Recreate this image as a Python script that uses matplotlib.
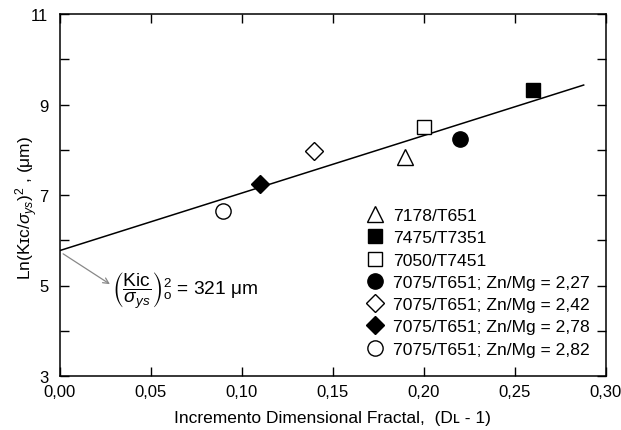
import matplotlib
matplotlib.use("Agg")
import matplotlib.pyplot as plt

plt.rcParams['font.family'] = ['Liberation Sans', 'DejaVu Sans']
plt.rcParams['mathtext.fontset'] = 'custom'
plt.rcParams['mathtext.rm'] = 'Liberation Sans'
plt.rcParams['mathtext.it'] = 'Liberation Sans:italic'
plt.rcParams['mathtext.bf'] = 'Liberation Sans:bold'
plt.rcParams['mathtext.sf'] = 'Liberation Sans'
plt.rcParams['mathtext.fallback'] = 'stixsans'

# ---- data ----
series_labels = ["7178/T651", "7475/T7351", "7050/T7451",
                 "7075/T651; Zn/Mg = 2,27", "7075/T651; Zn/Mg = 2,42",
                 "7075/T651; Zn/Mg = 2,78", "7075/T651; Zn/Mg = 2,82"]
x_vals = [0.19, 0.26, 0.20, 0.22, 0.14, 0.11, 0.09]
y_vals = [7.85, 9.32, 8.50, 8.24, 7.98, 7.24, 6.64]
markers = ['^', 's', 's', 'o', 'D', 'D', 'o']
filled = [False, True, False, True, False, True, False]
msizes = [11, 10, 10, 11, 9, 9, 11]

fit_x = [0.0, 0.288]
fit_y = [5.77, 9.43]

x_ticks = [0.00, 0.05, 0.10, 0.15, 0.20, 0.25, 0.30]
x_tick_labels = ["0,00", "0,05", "0,10", "0,15", "0,20", "0,25", "0,30"]
y_ticks = [3, 5, 7, 9, 11]
y_minor = [4, 6, 8, 10]

fig = plt.figure(figsize=(6.21, 4.31), dpi=100)
ax = fig.add_axes([59.5/621, 1-377/431, (605.5-59.5)/621, (377-15)/431])

ax.plot(fit_x, fit_y, color='black', lw=1.1, zorder=2)

handles = []
for xv, yv, m, f, ms, lab in zip(x_vals, y_vals, markers, filled, msizes, series_labels):
    h, = ax.plot([xv], [yv], linestyle='none', marker=m, markersize=ms,
                 markerfacecolor='black' if f else 'white',
                 markeredgecolor='black', markeredgewidth=1.0, zorder=3, label=lab)
    handles.append(h)

ax.set_xlim(0, 0.30)
ax.set_ylim(3, 11)
ax.set_xticks(x_ticks)
ax.set_xticklabels(x_tick_labels)
ax.set_yticks(y_ticks)
ax.set_yticks(y_minor, minor=True)
ax.tick_params(axis='both', which='both', direction='in', length=6.5, width=1.0,
               top=True, right=True, labelsize=12)
ax.tick_params(axis='x', pad=6)
ax.tick_params(axis='y', pad=8)
ax.tick_params(axis='x', which='minor', top=False, bottom=False)
for s in ax.spines.values():
    s.set_linewidth(1.1)

ax.set_xlabel("Incremento Dimensional Fractal,  (D\u029f - 1)", fontsize=12.5, labelpad=8)
ax.set_ylabel("Ln(K\u026a\u1d04/$\\sigma_{ys}$)$^{2}$ , (\u03bcm)", fontsize=12.5)
ax.yaxis.set_label_coords((40 - 59.5) / 546, (377 - 208) / 362)

ax.annotate("", xy=(0.0277, 5.03), xytext=(0.002, 5.70),
            arrowprops=dict(arrowstyle='->', color='#888888', lw=0.9,
                            shrinkA=0, shrinkB=0))
ax.text(0.0288, 4.91,
        "$\\left(\\dfrac{\\mathrm{Kic}}{\\sigma_{ys}}\\right)^{2}_{\\mathrm{o}}$ = 321 \u03bcm",
        fontsize=13.8, ha='left', va='center')

leg = ax.legend(handles=handles, loc='upper left',
                bbox_to_anchor=(366/621, 1-209/431), bbox_transform=fig.transFigure,
                frameon=False, fontsize=12.6, handlelength=1.0, handletextpad=0.55,
                labelspacing=0.4, borderpad=0, borderaxespad=0)

fig.savefig("out.png", dpi=100)
